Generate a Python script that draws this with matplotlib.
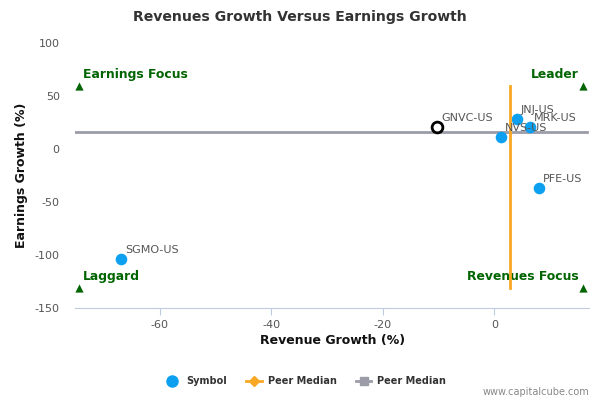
import matplotlib
matplotlib.use("Agg")
import matplotlib.pyplot as plt
from matplotlib.lines import Line2D

symbols = ["SGMO-US", "JNJ-US", "MRK-US", "NVS-US", "PFE-US"]
rev_growth = [-67.0, 4.0, 6.3, 1.1, 8.0]
earn_growth = [-104.2, 28.3, 21.0, 11.0, -36.6]

focus_symbol = "GNVC-US"
focus_rev = -10.3
focus_earn = 21.0

peer_median_rev = 2.8
peer_median_earn = 16.0

quad_x = [-74.5, 15.9]
quad_y = [60, -131]
quad_labels = ["Earnings Focus", "Leader", "Laggard", "Revenues Focus"]

xticks = [-60, -40, -20, 0]
yticks = [-150, -100, -50, 0, 50, 100]

plt.rcParams['font.family'] = ['DejaVu Sans']

fig = plt.figure(figsize=(6, 4), dpi=100)
ax = fig.add_axes([0.125, 0.231, 0.857, 0.661])
ax.set_xlim(-75.2, 17.0)
ax.set_ylim(-150, 100)

blue = "#0DA0F0"
orange = "#F9A825"
gray = "#9A9CA8"
green = "#006400"

# Peer median lines
ax.plot([quad_x[0] - 0.7, quad_x[1] + 0.7], [peer_median_earn, peer_median_earn],
        color=gray, lw=2, zorder=2)
ax.plot([peer_median_rev, peer_median_rev], [quad_y[0], quad_y[1]],
        color=orange, lw=2, zorder=4)

# points
ax.scatter(rev_growth, earn_growth, s=70, color=blue, zorder=3, linewidths=0)
ax.scatter([focus_rev], [focus_earn], s=60, facecolor="white", edgecolor="black",
           linewidths=2, zorder=5)

for s, x, y in zip(symbols, rev_growth, earn_growth):
    ax.annotate(s, (x, y), xytext=(3, 3), textcoords="offset points",
                fontsize=8, color="#555555", ha="left", va="bottom", zorder=6)
ax.annotate(focus_symbol, (focus_rev, focus_earn), xytext=(3, 3), textcoords="offset points",
            fontsize=8, color="#555555", ha="left", va="bottom", zorder=6)

# quadrant markers
qx = [quad_x[0], quad_x[1], quad_x[0], quad_x[1]]
qy = [quad_y[0], quad_y[0], quad_y[1], quad_y[1]]
ax.scatter(qx, qy, marker="^", s=35, color=green, zorder=3, linewidths=0)
for lab, x, y in zip(quad_labels, qx, qy):
    if x < 0:
        ax.annotate(lab, (x, y), xytext=(3, 3), textcoords="offset points",
                    fontsize=8.9, fontweight="bold", color=green, ha="left", va="bottom")
    else:
        ax.annotate(lab, (x, y), xytext=(-3, 3), textcoords="offset points",
                    fontsize=8.9, fontweight="bold", color=green, ha="right", va="bottom")

ax.set_xticks(xticks)
ax.set_yticks(yticks)
ax.set_xticklabels([str(t) for t in xticks])
ax.set_yticklabels([str(t) for t in yticks])
for sp in ["top", "right", "left"]:
    ax.spines[sp].set_visible(False)
ax.spines["bottom"].set_color("#C0CCDD")
ax.tick_params(axis="x", colors="#C0CCDD", labelcolor="#555555", labelsize=8, length=5, pad=4)
ax.tick_params(axis="y", length=0, labelcolor="#555555", labelsize=8, pad=11)

ax.set_xlabel("Revenue Growth (%)", fontsize=9, fontweight="bold", color="#111111", labelpad=3)
ax.set_ylabel("Earnings Growth (%)", fontsize=9, fontweight="bold", color="#111111", labelpad=5)

fig.text(0.5, 0.957, "Revenues Growth Versus Earnings Growth", ha="center", va="center",
         fontsize=10.1, fontweight="bold", color="#333333")

handles = [
    Line2D([], [], marker="o", color=blue, linestyle="none", markersize=8),
    Line2D([], [], marker="D", color=orange, lw=2, markersize=5),
    Line2D([], [], marker="s", color=gray, lw=2, markersize=6),
]
leg = fig.legend(handles, ["Symbol", "Peer Median", "Peer Median"], loc="center",
                 bbox_to_anchor=(0.509, 0.047), ncol=3, frameon=False,
                 prop={"size": 7, "weight": "bold"}, handlelength=1.6,
                 columnspacing=2.0, handletextpad=0.6)
for t in leg.get_texts():
    t.set_color("#333333")

fig.text(0.982, 0.02, "www.capitalcube.com", ha="right", va="center",
         fontsize=7, color="#888888")

fig.savefig("out.png", dpi=100)
